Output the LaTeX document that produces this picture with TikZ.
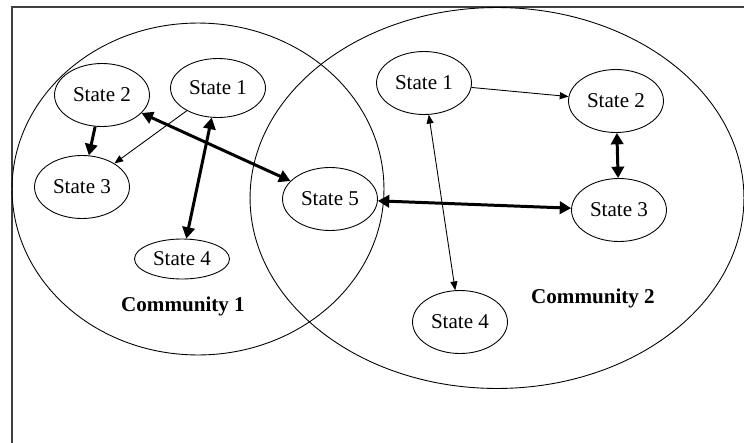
\documentclass[tikz,border=0pt]{standalone}
\usepackage{fontspec}
\setmainfont{Liberation Serif}
\usetikzlibrary{arrows.meta, shapes.geometric}

\begin{document}
\begin{tikzpicture}[x=0.02cm, y=-0.02cm,
    every node/.style={font=\fontsize{12}{14}\selectfont},
    state/.style={draw, ellipse, inner sep=0pt, line width=0.5pt,
      minimum width=1.9cm, minimum height=1.26cm},
    community/.style={draw, ellipse, inner sep=0pt, line width=0.5pt},
    thinlink/.style={line width=0.5pt, -{Triangle[length=5pt, width=4pt]}},
    thinboth/.style={line width=0.5pt,
      {Triangle[length=5pt, width=4pt]}-{Triangle[length=5pt, width=4pt]}},
    thicklink/.style={line width=1.7pt, -{Triangle[length=6.5pt, width=7pt]}},
    thickboth/.style={line width=1.7pt,
      {Triangle[length=6.5pt, width=7pt]}-{Triangle[length=6.5pt, width=7pt]}}]
      \useasboundingbox (0,0) rectangle (744,443);
      \draw[line width=1pt, black!75] (12,443) -- (12,7) -- (744,7);
      % the two communities
      \node[community, minimum width=7.44cm, minimum height=6.64cm] (comm1) at (198,189) {};
      \node[community, minimum width=9.88cm, minimum height=7.62cm] (comm2) at (497,198) {};
      % states of community 1
      \node[state, minimum height=1.18cm] (c1s1) at (218,88) {State 1};
      \node[state] (c1s2) at (102,95) {State 2};
      \node[state] (c1s3) at (82,187) {State 3};
      \node[state, minimum height=0.8cm] (c1s4) at (182,259) {State 4};
      % shared state
      \node[state] (s5) at (330,199) {State 5};
      % states of community 2
      \node[state] (c2s1) at (424,83) {State 1};
      \node[state] (c2s2) at (616,101) {State 2};
      \node[state] (c2s3) at (619,210) {State 3};
      \node[state] (c2s4) at (460,322) {State 4};
      \node[font=\fontsize{12}{14}\selectfont\bfseries] (lab1) at (183,306) {Community 1};
      \node[font=\fontsize{12}{14}\selectfont\bfseries] (lab2) at (593,298) {Community 2};
      % links
      \draw[thicklink] (c1s2) -- (c1s3);
      \draw[thinlink] (c1s1) -- (c1s3);
      \draw[thickboth] (c1s2) -- (s5);
      \draw[thickboth] (c1s1) -- (c1s4);
      \draw[thinlink] (c2s1) -- (c2s2);
      \draw[thickboth] (c2s2) -- (c2s3);
      \draw[thickboth] (s5) -- (c2s3);
      \draw[thinboth] (c2s1) -- (c2s4);
    \end{tikzpicture}
\end{document}
